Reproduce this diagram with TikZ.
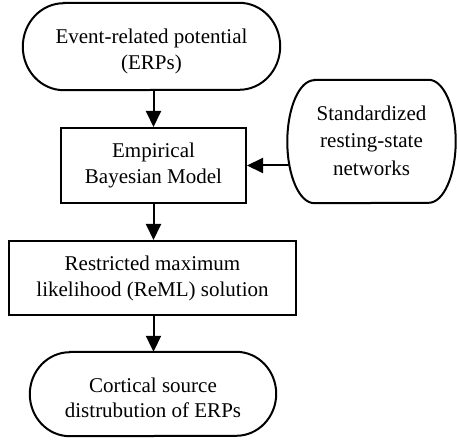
\documentclass[tikz,border=0pt]{standalone}
\usepackage{fontspec}
\setmainfont{Liberation Serif}
\usetikzlibrary{arrows.meta,calc}

% outline of a terminator: straight top and bottom, half-ellipse ends
\newcommand\termoutline[3]{%
  \draw[outline] ([xshift=#2]#1.north west) -- ([xshift=-#2]#1.north east)
    arc[start angle=90,end angle=-90,x radius=#2,y radius=#3]
    -- ([xshift=#2]#1.south west)
    arc[start angle=270,end angle=90,x radius=#2,y radius=#3] -- cycle;}

\begin{document}
\begin{tikzpicture}[x=1pt,y=1pt,
  outline/.style={line width=2pt},
  shapearea/.style={inner sep=0pt},
  txt/.style={align=center,inner sep=0pt,font=\fontsize{21}{26}\selectfont},
  procbox/.style={txt,draw,line width=2pt},
  arr/.style={line width=2pt,-{Triangle[length=16pt,width=15pt]}}]
\useasboundingbox (0,0) rectangle (457,439);

% start terminator
\node[shapearea,minimum width=257pt,minimum height=87pt] (erp) at (151.5,392.5) {};
\termoutline{erp}{41pt}{43.5pt}
\node[txt] (erptext) at (151.5,388) {Event-related potential\\(ERPs)};

% model box
\node[procbox,minimum width=185pt,minimum height=75pt] (ebm) at (153.5,273.5)
  {Empirical\\Bayesian Model};

% side input
\node[shapearea,minimum width=168pt,minimum height=123pt] (rsn) at (371.5,297.5) {};
\termoutline{rsn}{27pt}{61.5pt}
\node[txt,font=\fontsize{21}{27.5}\selectfont] (rsntext) at (371.5,298.5)
  {Standardized\\resting-state\\networks};

% ReML box
\node[procbox,minimum width=287pt,minimum height=74pt] (reml) at (152.5,161)
  {Restricted maximum\\likelihood (ReML) solution};

% end terminator
\node[shapearea,minimum width=246pt,minimum height=84pt] (csd) at (153,45) {};
\termoutline{csd}{40pt}{42pt}
\node[txt,font=\fontsize{21}{25}\selectfont] (csdtext) at (153,41)
  {Cortical source\\distrubution of ERPs};

\coordinate (rsnin) at ($(rsn.west |- ebm.east)+(2pt,0)$);

\draw[arr] (ebm.north |- erp.south) -- (ebm.north);
\draw[arr] (rsnin) -- (ebm.east);
\draw[arr] (ebm.south) -- (ebm.south |- reml.north);
\draw[arr] (ebm.south |- reml.south) -- (ebm.south |- csd.north);
\end{tikzpicture}
\end{document}
